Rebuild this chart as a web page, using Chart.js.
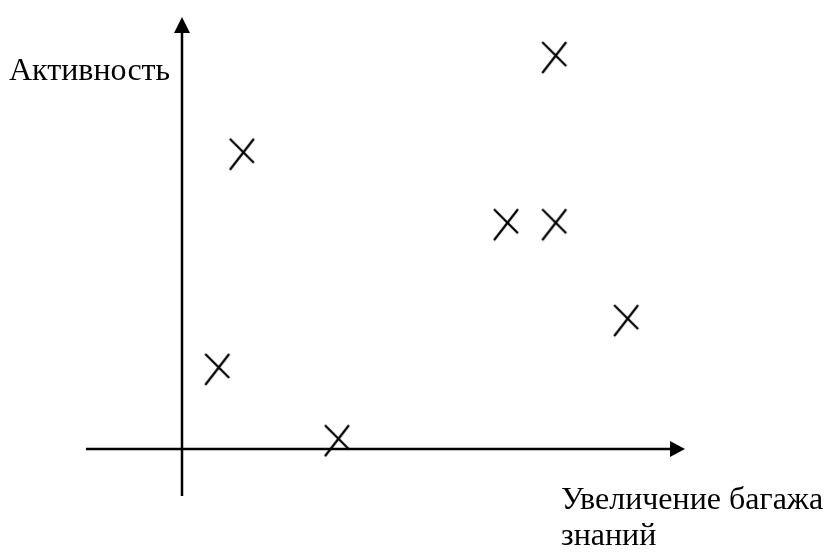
<!DOCTYPE html>
<html>
<head>
<meta charset="utf-8">
<script src="https://cdn.jsdelivr.net/npm/chart.js@4.4.0/dist/chart.umd.min.js"></script>
<style>
  html, body { margin: 0; padding: 0; background: #fff; }
</style>
</head>
<body>
<canvas id="chart" width="830" height="552"></canvas>
<script>
// knowledge growth (x) vs activity (y), arbitrary units 0..10
const knowledge = [1.21, 0.72, 3.1, 6.46, 7.42, 7.42, 8.85];
const activity = [6.88, 1.9, 0.25, 5.25, 5.25, 9.12, 3.03];

const yLabel = "Активность";
const xLabel = ["Увеличение багажа", "знаний"];

// axes stick out a bit on the negative side
const xAxisFrom = -1.91;
const yAxisFrom = -1.09;

// hand-drawn looking cross marker
const mark = document.createElement("canvas");
mark.width = 40;
mark.height = 40;
(function () {
  const c = mark.getContext("2d");
  c.strokeStyle = "#000";
  c.lineWidth = 2.3;
  c.beginPath();
  c.moveTo(20 - 13, 20 - 13);
  c.lineTo(20 + 11, 20 + 11);
  c.moveTo(20 - 13, 20 + 18);
  c.lineTo(20 + 11, 20 - 13);
  c.stroke();
})();

const points = knowledge.map((x, i) => ({ x: x, y: activity[i] }));

const axesPlugin = {
  id: "axes",
  beforeDatasetsDraw(chart) {
    const ctx = chart.ctx;
    const xs = chart.scales.x;
    const ys = chart.scales.y;
    const x0 = xs.getPixelForValue(0);
    const y0 = ys.getPixelForValue(0);
    const xEnd = xs.getPixelForValue(xs.max);
    const yEnd = ys.getPixelForValue(ys.max);

    ctx.save();
    ctx.strokeStyle = "#000";
    ctx.fillStyle = "#000";
    ctx.lineWidth = 2.5;

    ctx.beginPath();
    ctx.moveTo(xs.getPixelForValue(xAxisFrom), y0);
    ctx.lineTo(xEnd - 4, y0);
    ctx.moveTo(x0, ys.getPixelForValue(yAxisFrom));
    ctx.lineTo(x0, yEnd + 4);
    ctx.stroke();

    // arrow heads
    ctx.beginPath();
    ctx.moveTo(xEnd, y0);
    ctx.lineTo(xEnd - 15, y0 - 8);
    ctx.lineTo(xEnd - 15, y0 + 8);
    ctx.closePath();
    ctx.fill();

    ctx.beginPath();
    ctx.moveTo(x0, yEnd);
    ctx.lineTo(x0 - 8, yEnd + 16);
    ctx.lineTo(x0 + 8, yEnd + 16);
    ctx.closePath();
    ctx.fill();

    // labels
    ctx.font = "32px 'Liberation Serif', 'Times New Roman', serif";
    ctx.textBaseline = "alphabetic";
    ctx.textAlign = "left";
    ctx.fillText(yLabel, 9, 80);
    ctx.fillText(xLabel[0], 561, 509);
    ctx.fillText(xLabel[1], 561, 545);
    ctx.restore();
  },
};

new Chart(document.getElementById("chart"), {
  type: "scatter",
  data: {
    datasets: [
      {
        data: points,
        pointStyle: mark,
        pointRadius: 15,
        clip: false,
      },
    ],
  },
  options: {
    responsive: false,
    animation: false,
    layout: {
      padding: { left: 182, right: 145, top: 17, bottom: 103 },
    },
    plugins: {
      legend: { display: false },
      tooltip: { enabled: false },
    },
    scales: {
      x: { display: false, min: 0, max: 10 },
      y: { display: false, min: 0, max: 10 },
    },
  },
  plugins: [axesPlugin],
});
</script>
</body>
</html>
